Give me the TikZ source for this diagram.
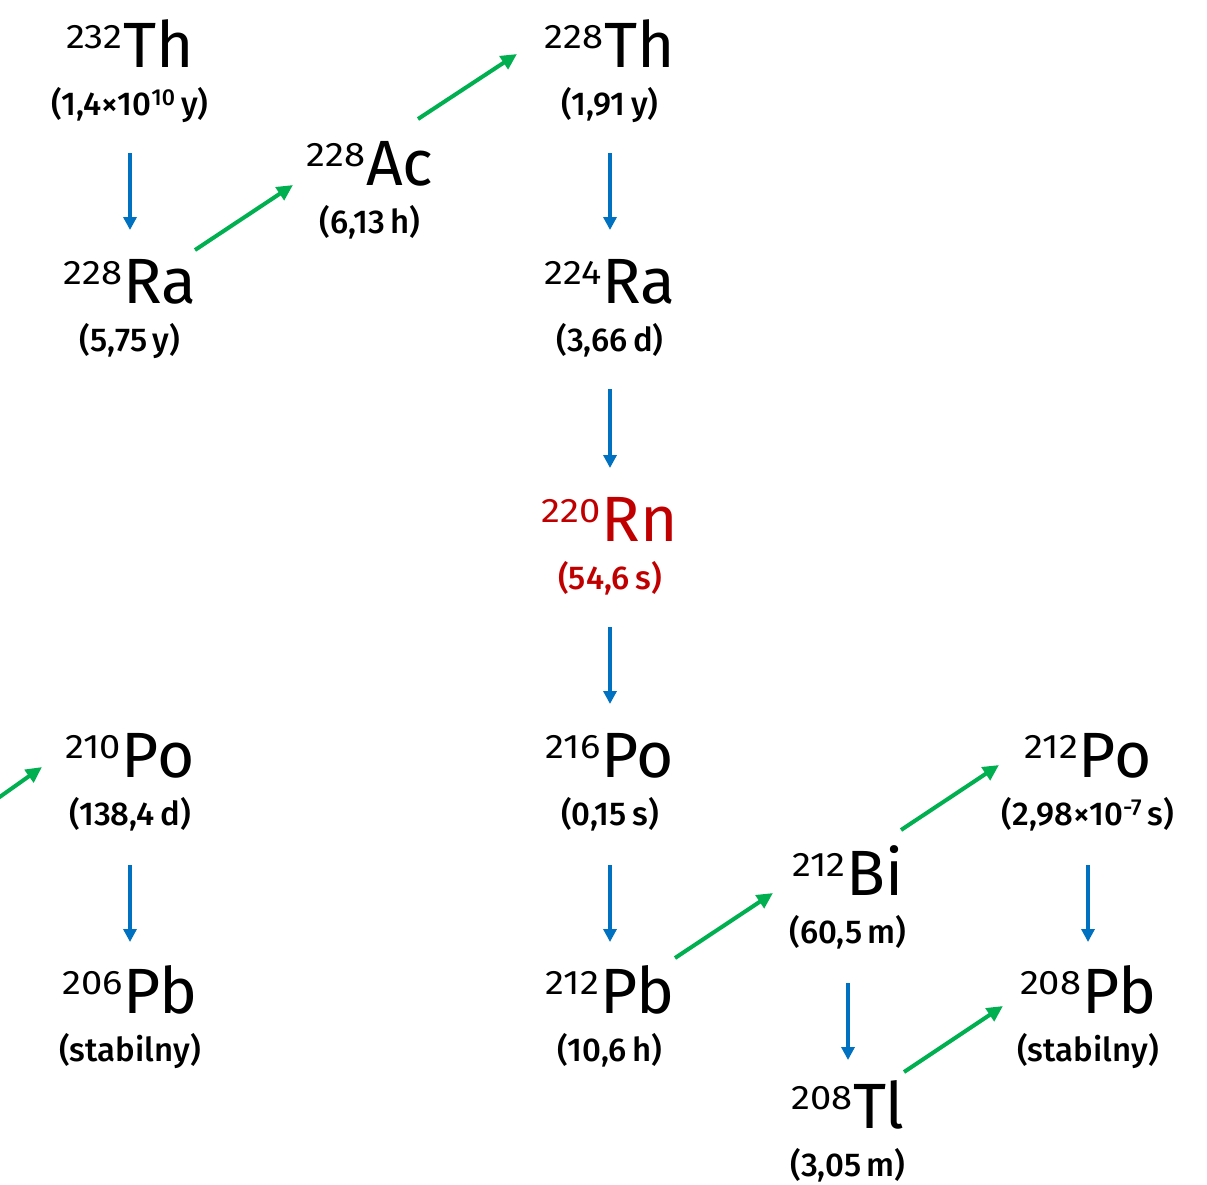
\documentclass[tikz,border=0pt]{standalone}
\usepackage{fontspec}
\setmainfont{Fira Sans}
\newfontfamily\hlfont{Fira Sans Medium}
\usetikzlibrary{arrows.meta,calc}
\definecolor{ablue}{HTML}{0070C0}
\definecolor{agreen}{HTML}{00B050}
\definecolor{ared}{HTML}{C00000}
\newcommand{\iso}[2]{{\fontsize{34}{34}\selectfont\raisebox{19pt}{\scalebox{1.12}[1]{#1}}}\kern1pt{\fontsize{64}{64}\selectfont #2}}
\newcommand{\hl}[1]{{\hlfont\fontsize{33}{33}\selectfont #1}}
\tikzset{
  isonode/.style={anchor=base,inner sep=0pt,outer sep=0pt},
  hlnode/.style={anchor=base,inner sep=0pt,outer sep=0pt},
  barrow/.style={draw=ablue,line width=3.5pt,-{Triangle[length=13pt,width=13pt]}},
  garrow/.style={draw=agreen,line width=4pt,-{Triangle[length=16pt,width=15pt]}},
}
\begin{document}
\begin{tikzpicture}[x=1pt,y=-1pt]
\useasboundingbox (0,0) rectangle (1207,1184);
% isotopes
\foreach \n/\x/\b/\m/\s/\h in {
  th232/130/67/232/Th/{(1,4×10\textsuperscript{10}\,y)},
  ra228/130/303/228/Ra/{(5,75\,y)},
  ac228/370/185/228/Ac/{(6,13\,h)},
  th228/610/67/228/Th/{(1,91\,y)},
  ra224/610/303/224/Ra/{(3,66\,d)},
  po216/610/777/216/Po/{(0,15\,s)},
  pb212/610/1013/212/Pb/{(10,6\,h)},
  bi212/848/895/212/Bi/{(60,5\,m)},
  po212/1088/777/212/Po/{(2,98×10\textsuperscript{-7}\,s)},
  tl208/848/1128/208/Tl/{(3,05\,m)},
  pb208/1088/1013/208/Pb/{(stabilny)},
  po210/130/777/210/Po/{(138,4\,d)},
  pb206/130/1013/206/Pb/{(stabilny)}}{
  \node[isonode] (\n) at (\x,\b) {\iso{\m}{\s}};
  \node[hlnode] (\n hl) at (\x,\b+48) {\hl{\h}};
}
\node[isonode,text=ared] (rn220) at (610,541) {\iso{220}{Rn}};
\node[hlnode,text=ared] (rn220hl) at (610,589) {\hl{(54,6\,s)}};
% vertical arrows
\draw[barrow] ($(th232.base)+(0,86)$) -- ($(ra228.base)+(0,-73)$);
\draw[barrow] ($(th228.base)+(0,86)$) -- ($(ra224.base)+(0,-73)$);
\draw[barrow] ($(ra224.base)+(0,86)$) -- ($(rn220.base)+(0,-73)$);
\draw[barrow] ($(rn220.base)+(0,86)$) -- ($(po216.base)+(0,-73)$);
\draw[barrow] ($(po216.base)+(0,88)$) -- ($(pb212.base)+(0,-71)$);
\draw[barrow] ($(po210.base)+(0,88)$) -- ($(pb206.base)+(0,-71)$);
\draw[barrow] ($(po212.base)+(0,88)$) -- ($(pb208.base)+(0,-71)$);
\draw[barrow] ($(bi212.base)+(0,88)$) -- ($(tl208.base)+(0,-68)$);
% green arrows
\draw[garrow] ($(ra228.base)+(65,-53)$) -- ($(ac228.base)+(-77,0)$);
\draw[garrow] ($(ac228.base)+(48,-66)$) -- ($(th228.base)+(-93,-13)$);
\coordinate (leftin) at (-6,801);
\draw[garrow] (leftin) -- ($(po210.base)+(-88,-10)$);
\draw[garrow] ($(pb212.base)+(65,-55)$) -- ($(bi212.base)+(-75,-2)$);
\draw[garrow] ($(bi212.base)+(53,-65)$) -- ($(po212.base)+(-89,-12)$);
\draw[garrow] ($(tl208.base)+(56,-56)$) -- ($(pb208.base)+(-85,-7)$);
\end{tikzpicture}
\end{document}
